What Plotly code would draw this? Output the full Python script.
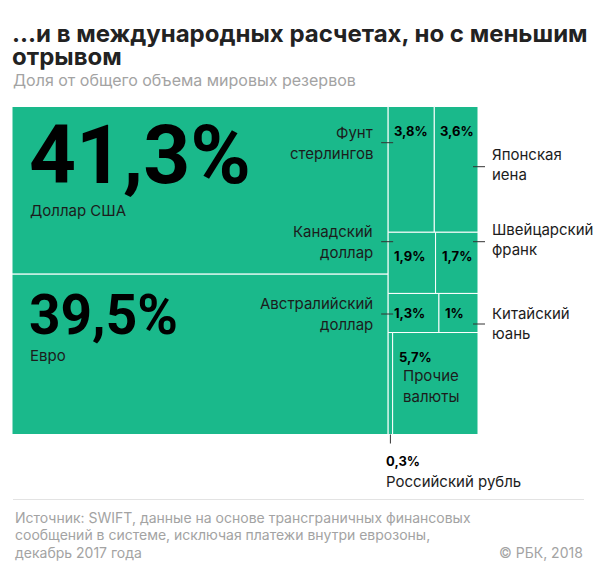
import plotly.graph_objects as go

# ---- data ----
currencies = ["Доллар США", "Евро", "Фунт\nстерлингов", "Японская\nиена",
              "Канадский\nдоллар", "Швейцарский\nфранк", "Австралийский\nдоллар",
              "Китайский\nюань", "Прочие\nвалюты", "Российский рубль"]
shares = [41.3, 39.5, 3.8, 3.6, 1.9, 1.7, 1.3, 1.0, 5.7, 0.3]

# tiling: big column on the left, rows of pairs on the right
left_group = [0, 1]
right_rows = [[2, 3], [4, 5], [6, 7], [9, 8]]

TITLE = ["…и в международных расчетах, но с меньшим", "отрывом"]
SUBTITLE = "Доля от общего объема мировых резервов"
SOURCE = ["Источник: SWIFT, данные на основе трансграничных финансовых",
          "сообщений в системе, исключая платежи внутри еврозоны,",
          "декабрь 2017 года"]
CREDIT = "© РБК, 2018"

GREEN = "#1ab98b"
DARK = "#1c1c1c"
GREY = "#a3a3a3"
FONT = "Inter"
BIG_FONT = "Roboto"

# axis ranges equal the page pixels
PAGE_W, PAGE_H = 600, 568
BOX = (12, 106.5, 478, 434.5)


def fmt(v):
    s = f"{v:.1f}".replace(".", ",")
    if s.endswith(",0"):
        s = s[:-2]
    return s + "%"


# ---- compute tile rectangles from the shares ----
x0, y0, x1, y1 = BOX
W, H = x1 - x0, y1 - y0
total = sum(shares)
left_sum = sum(shares[i] for i in left_group)
split_x = x0 + W * left_sum / total

rects = {}
y = y0
for i in left_group:
    h = H * shares[i] / left_sum
    rects[i] = (x0, y, split_x, y + h)
    y += h

right_sum = sum(shares[i] for row in right_rows for i in row)
y = y0
for row in right_rows:
    row_sum = sum(shares[i] for i in row)
    rh = H * row_sum / right_sum
    x = split_x
    for i in row:
        w = (x1 - split_x) * shares[i] / row_sum
        rects[i] = (x, y, x + w, y + rh)
        x += w
    y += rh

fig = go.Figure()
# invisible trace so the axes exist
fig.add_trace(go.Scatter(x=[0, PAGE_W], y=[0, PAGE_H], mode="markers",
                         marker=dict(opacity=0), hoverinfo="skip", showlegend=False))

for i, (a, b, c, d) in rects.items():
    fig.add_shape(type="rect", x0=a, y0=b, x1=c, y1=d, xref="x", yref="y",
                  fillcolor=GREEN, line=dict(color="white", width=1), layer="below")


def text(x, y, s, size, color=DARK, bold=False, xanchor="left", family=FONT):
    fig.add_annotation(x=x, y=y, xref="x", yref="y", showarrow=False,
                       text=f"<b>{s}</b>" if bold else s,
                       xanchor=xanchor, yanchor="middle",
                       font=dict(size=size, color=color, family=family))


def lines(x, y, s, size, color=DARK, xanchor="left", step=21):
    for k, part in enumerate(s.split("\n")):
        text(x, y + k * step, part, size, color, xanchor=xanchor)


def leader(xa, ya, xb, yb):
    fig.add_shape(type="line", x0=xa, y0=ya, x1=xb, y1=yb, xref="x", yref="y",
                  line=dict(color="#333333", width=1))


# big tiles
a, b, c, d = rects[0]
text(a + 15, b + 48, fmt(shares[0]), 82, "#000000", bold=True, family=BIG_FONT)
text(a + 16, b + 104, currencies[0], 15)
a, b, c, d = rects[1]
text(a + 15, b + 41, fmt(shares[1]), 55, "#000000", bold=True, family=BIG_FONT)
text(a + 16, b + 81, currencies[1], 15)

# small tiles: percentages inside
for row in right_rows:
    for i in row:
        if i == 9:
            continue
        a, b, c, d = rects[i]
        dy = min(24, (d - b) / 2)
        text(a + 4, b + dy, fmt(shares[i]), 13, "#000000", bold=True)

# others: name inside the tile
a, b, c, d = rects[8]
lines(a + 8, b + 43, currencies[8], 15)

# outside labels on the left of the right column
for i, ly in [(2, 142.7), (4, 241.7), (6, 314)]:
    a, b, c, d = rects[i]
    leader(a - 7, ly, a + 5, ly)
    lines(a - 13, ly - 10.5, currencies[i], 15, xanchor="right", step=21)

# outside labels on the right
for i, ly, ty in [(3, 166.7, 154), (5, 241.7, 229.3), (7, 324, 313.3)]:
    a, b, c, d = rects[i]
    leader(c - 5, ly, c + 7, ly)
    lines(c + 12, ty, currencies[i], 15, step=20)

# ruble: thin strip with a leader downward
a, b, c, d = rects[9]
cx = (a + c) / 2
leader(cx, d, cx, d + 9)
text(a - 4, d + 26.5, fmt(shares[9]), 13, "#000000", bold=True)
text(a - 4, d + 47, currencies[9], 15)

# titles
for k, t in enumerate(TITLE):
    text(10, 33 + k * 23, t, 24, "#222222", bold=True)
text(11, 80, SUBTITLE, 16, GREY)

# footer
fig.add_shape(type="line", x0=13, x1=584, y0=499.5, y1=499.5, xref="x", yref="y",
              line=dict(color="#e3e3e3", width=1))
for k, t in enumerate(SOURCE):
    text(13, 517 + k * 17.5, t, 14, GREY)
text(585, 552, CREDIT, 14, GREY, xanchor="right")

fig.update_xaxes(range=[0, PAGE_W], visible=False, fixedrange=True)
fig.update_yaxes(range=[PAGE_H, 0], visible=False, fixedrange=True)
fig.update_layout(width=PAGE_W, height=PAGE_H,
                  margin=dict(l=0, r=0, t=0, b=0),
                  plot_bgcolor="white", paper_bgcolor="white",
                  font=dict(family=FONT, color=DARK))

# drop the default 8px page margin so the figure fills the window
fig.write_html("out.html", config={"displayModeBar": False},
               post_script="document.body.style.margin='0px';")
